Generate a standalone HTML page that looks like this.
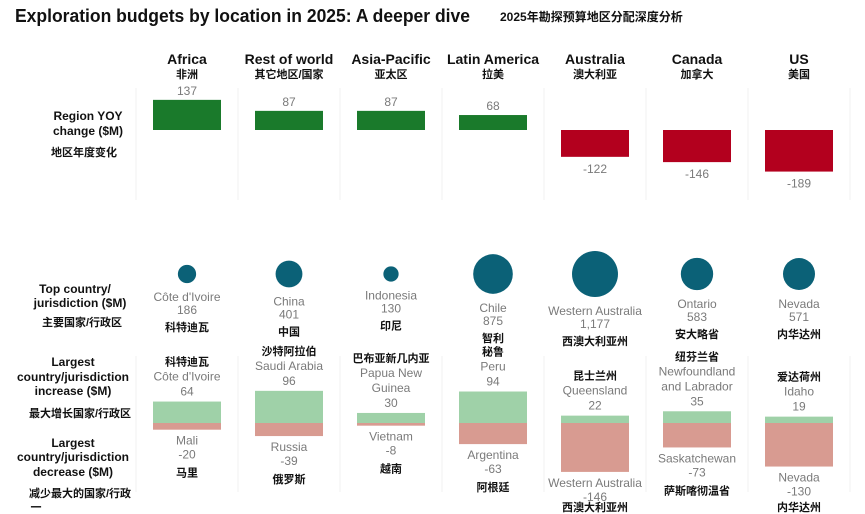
<!DOCTYPE html>
<html><head><meta charset="utf-8"><style>
body{margin:0;background:#fff;}
svg{display:block;font-family:"Liberation Sans","Noto Sans CJK SC",sans-serif;}
.g{fill:#7a7a7a;font-size:12px;text-anchor:middle}
.c{fill:#111;font-size:11px;font-weight:bold;text-anchor:middle;font-family:"Liberation Sans","Noto Sans CJK SC",sans-serif}
.rl{fill:#111;font-size:12px;font-weight:bold;text-anchor:middle}
</style></head><body>
<svg id="chart" width="865" height="514" viewBox="0 0 865 514">
<text x="15" y="22" font-size="18" font-weight="bold" fill="#111" textLength="455" lengthAdjust="spacingAndGlyphs">Exploration budgets by location in 2025: A deeper dive</text>
<text x="500" y="21" font-size="12" font-weight="bold" fill="#111">2025年勘探预算地区分配深度分析</text>
<g>
<text class="rl" x="88" y="120">Region YOY</text><text class="rl" x="88" y="135">change ($M)</text>
<text class="c" x="84" y="156">地区年度变化</text></g>
<g>
<text class="rl" x="75" y="293">Top country/</text><text class="rl" x="80" y="307">jurisdiction ($M)</text>
<text class="c" x="82" y="326">主要国家/行政区</text></g>
<g>
<text class="rl" x="73" y="366">Largest</text><text class="rl" x="73" y="381">country/jurisdiction</text><text class="rl" x="73" y="395">increase ($M)</text>
<text class="c" x="80" y="417">最大增长国家/行政区</text></g>
<g>
<text class="rl" x="73" y="447">Largest</text><text class="rl" x="73" y="461">country/jurisdiction</text><text class="rl" x="73" y="476">decrease ($M)</text>
<text class="c" x="80" y="497">减少最大的国家/行政</text><text class="c" x="36" y="511">一</text></g>
<g id="marks"></g>
</svg>
<script>
const regions=["Africa","Rest of world","Asia-Pacific","Latin America","Australia","Canada","US"];
const regionsCn=["非洲","其它地区/国家","亚太区","拉美","澳大利亚","加拿大","美国"];
const yoy=[137,87,87,68,-122,-146,-189];
const topName=[["Côte d'Ivoire"],["China"],["Indonesia"],["Chile"],["Western Australia"],["Ontario"],["Nevada"]];
const topCn=["科特迪瓦","中国","印尼","智利","西澳大利亚州","安大略省","内华达州"];
const topVal=[186,401,130,875,1177,583,571];
const topLabel=["186","401","130","875","1,177","583","571"];
const incName=[["Côte d'Ivoire"],["Saudi Arabia"],["Papua New","Guinea"],["Peru"],["Queensland"],["Newfoundland","and Labrador"],["Idaho"]];
const incCn=["科特迪瓦","沙特阿拉伯","巴布亚新几内亚","秘鲁","昆士兰州","纽芬兰省","爱达荷州"];
const incVal=[64,96,30,94,22,35,19];
const decName=["Mali","Russia","Vietnam","Argentina","Western Australia","Saskatchewan","Nevada"];
const decCn=["马里","俄罗斯","越南","阿根廷","西澳大利亚州","萨斯喀彻温省","内华达州"];
const decVal=[-20,-39,-8,-63,-146,-73,-130];

const NS="http://www.w3.org/2000/svg";
const g=document.getElementById('marks');
function el(t,a,txt){const e=document.createElementNS(NS,t);for(const k in a)e.setAttribute(k,a[k]);if(txt!=null)e.textContent=txt;g.appendChild(e);return e;}
const cx=i=>187+i*102;
const yTop=v=>130-v*0.22;
const yBot=v=>423-v*0.335;
const rad=v=>0.67*Math.sqrt(v);
const BW=68;
for(let i=0;i<8;i++){
  let s=el('line',{x1:136+i*102,x2:136+i*102,y1:88,y2:200,stroke:'#f0f0f0'});
  
  
  let s2=el('line',{x1:136+i*102,x2:136+i*102,y1:356,y2:492,stroke:'#f0f0f0'});
  
  
}
regions.forEach((r,i)=>{
  const x=cx(i);
  let h=el('text',{x:x,y:64,'text-anchor':'middle','font-size':14,'font-weight':'bold',fill:'#111'},r);
  
  
  let hc=el('text',{x:x,y:78,class:'c'},regionsCn[i]);
  
  
  const v=yoy[i];const y0=yTop(0),y1=yTop(v);
  let b=el('rect',{x:x-BW/2,y:Math.min(y0,y1),width:BW,height:Math.abs(y1-y0),fill:v>=0?'#1a7a2b':'#b3001e'});
  
  
  let t=el('text',{x:x,y:v>=0?y1-5:y1+16,class:'g'},String(v));
  
  
  const r0=rad(topVal[i]);
  let c=el('circle',{cx:x,cy:274,r:r0,fill:'#0b6177'});
  
  
  let ny=274+r0+18;
  let tn=el('text',{x:x,y:ny,class:'g'},topName[i][0]);
  
  
  let tv=el('text',{x:x,y:ny+13,class:'g'},topLabel[i]);
  
  
  let tc=el('text',{x:x,y:ny+30,class:'c'},topCn[i]);
  
  
  const yi=yBot(incVal[i]);
  let ib=el('rect',{x:x-BW/2,y:yi,width:BW,height:yBot(0)-yi,fill:'#9fd1a8'});
  
  
  let ly=yi-6;
  let iv=el('text',{x:x,y:ly,class:'g'},String(incVal[i]));
  
  
  const nm=incName[i];
  for(let k=nm.length-1;k>=0;k--){ly-=15;
    let it=el('text',{x:x,y:ly,class:'g'},nm[k]);
    
    }
  let ic=el('text',{x:x,y:ly-15,class:'c'},incCn[i]);
  
  
  const yd=yBot(decVal[i]);
  let db=el('rect',{x:x-BW/2,y:yBot(0),width:BW,height:yd-yBot(0),fill:'#d89b91'});
  
  
  let dn=el('text',{x:x,y:yd+15,class:'g'},decName[i]);
  
  
  let dv=el('text',{x:x,y:yd+29,class:'g'},String(decVal[i]));
  
  
  let dc=el('text',{x:x,y:Math.min(yd+47,511),class:'c'},decCn[i]);
  
  
});
</script>
</body></html>
